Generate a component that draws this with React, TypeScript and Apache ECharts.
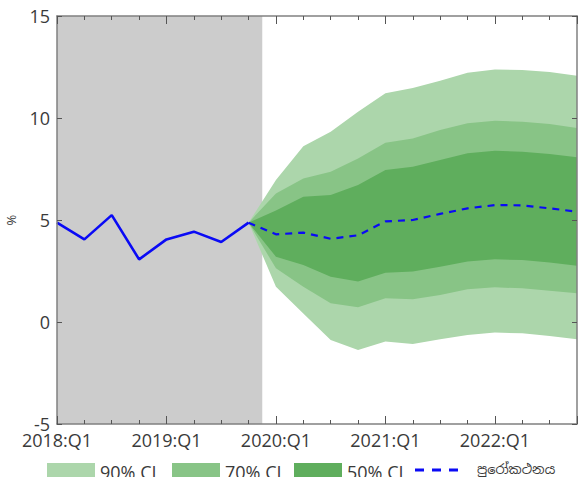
import React, { useEffect, useRef } from 'react';
import * as echarts from 'echarts';

// ---- Data ----
const startYear = 2018;
const xMax = 19; // 2022:Q4 (quarters since 2018:Q1)
const shadedEnd = 7.5; // end of the historical (grey) period

const actualX = [0, 1, 2, 3, 4, 5, 6, 7];
const actualValues = [4.87, 4.05, 5.24, 3.07, 4.05, 4.43, 3.92, 4.87];

const forecastX = [7, 8, 9, 10, 11, 12, 13, 14, 15, 16, 17, 18, 19];
const forecastValues = [4.87, 4.3, 4.38, 4.08, 4.25, 4.93, 5.0, 5.3, 5.57, 5.73, 5.72, 5.57, 5.41];

const ci90Upper = [4.87, 6.96, 8.62, 9.33, 10.31, 11.21, 11.47, 11.83, 12.22, 12.38, 12.35, 12.25, 12.07];
const ci70Upper = [4.87, 6.3, 7.04, 7.37, 8.02, 8.79, 9.0, 9.41, 9.74, 9.87, 9.82, 9.71, 9.51];
const ci50Upper = [4.87, 5.47, 6.14, 6.23, 6.72, 7.45, 7.61, 7.94, 8.27, 8.4, 8.35, 8.24, 8.07];
const ci50Lower = [4.87, 3.2, 2.79, 2.22, 1.98, 2.42, 2.47, 2.71, 2.96, 3.07, 3.04, 2.92, 2.76];
const ci70Lower = [4.87, 2.63, 1.73, 0.92, 0.72, 1.16, 1.11, 1.32, 1.6, 1.7, 1.65, 1.53, 1.41];
const ci90Lower = [4.87, 1.73, 0.42, -0.88, -1.37, -0.96, -1.08, -0.85, -0.64, -0.52, -0.55, -0.69, -0.85];

const yMin = -5;
const yMax = 15;
const yInterval = 5;

const legendNames = ['90% CI', '70% CI', '50% CI', 'පුරෝකථනය'];

// ---- Styles ----
const FONT = '"Open Sans", "Noto Sans", sans-serif';
const C90 = '#acd6ab';
const C70 = '#88c486';
const C50 = '#5fae5d';
const SHADE = '#cccccc';
const BLUE = '#0a0af5';
const FRAME = '#808080';
const TEXT = '#3a3a3a';

const bandSeries = (name: string, upper: number[], lower: number[], color: string, z: number) => ({
  type: 'custom',
  name,
  z,
  silent: true,
  clip: false,
  data: [[forecastX[0], upper[0]]],
  renderItem: (_params: any, api: any) => {
    const pts: number[][] = [];
    forecastX.forEach((x, i) => pts.push(api.coord([x, upper[i]])));
    for (let i = forecastX.length - 1; i >= 0; i--) pts.push(api.coord([forecastX[i], lower[i]]));
    return { type: 'polygon', shape: { points: pts }, style: { fill: color } };
  },
});

export default function App() {
  const ref = useRef<HTMLDivElement>(null);

  useEffect(() => {
    if (!ref.current) return;
    const chart = echarts.init(ref.current, undefined, { renderer: 'svg' });

    const xBase = {
      type: 'value',
      min: 0,
      max: xMax,
      splitLine: { show: false },
      z: 10,
    };

    const option: any = {
      animation: false,
      grid: { left: 57, right: 4, top: 16, bottom: 53, containLabel: false, outerBoundsMode: 'none' },
      xAxis: [
        {
          ...xBase,
          position: 'bottom',
          interval: 1,
          axisLine: { show: true, onZero: false, lineStyle: { color: FRAME, width: 1.5 } },
          axisTick: { show: true, inside: true, length: 4, lineStyle: { color: '#555' } },
          axisLabel: { show: false },
        },
        {
          ...xBase,
          position: 'bottom',
          interval: 4,
          axisLine: { show: false, onZero: false },
          axisTick: { show: true, inside: true, length: 8, lineStyle: { color: '#555' } },
          axisLabel: {
            show: true,
            margin: 7,
            fontSize: 18,
            fontFamily: FONT,
            color: TEXT,
            formatter: (v: number) => (v % 4 === 0 && v / 4 < 5 ? `${startYear + v / 4}:Q1` : ''),
          },
        },
        {
          ...xBase,
          position: 'top',
          interval: 1,
          axisLine: { show: true, onZero: false, lineStyle: { color: FRAME, width: 1.5 } },
          axisTick: { show: true, inside: true, length: 4, lineStyle: { color: '#555' } },
          axisLabel: { show: false },
        },
        {
          ...xBase,
          position: 'top',
          interval: 4,
          axisLine: { show: false, onZero: false },
          axisTick: { show: true, inside: true, length: 8, lineStyle: { color: '#555' } },
          axisLabel: { show: false },
        },
      ],
      yAxis: [
        {
          type: 'value',
          position: 'left',
          min: yMin,
          max: yMax,
          interval: yInterval,
          z: 10,
          name: '%',
          nameLocation: 'middle',
          nameGap: 40,
          nameRotate: 90,
          nameTextStyle: { fontSize: 13, fontFamily: FONT, color: TEXT },
          splitLine: { show: false },
          axisLine: { show: true, onZero: false, lineStyle: { color: FRAME, width: 1.5 } },
          axisTick: { show: true, inside: true, length: 5, lineStyle: { color: '#555' } },
          axisLabel: { show: true, margin: 7, fontSize: 18, fontFamily: FONT, color: TEXT },
        },
        {
          type: 'value',
          position: 'right',
          min: yMin,
          max: yMax,
          interval: yInterval,
          z: 10,
          splitLine: { show: false },
          axisLine: { show: true, onZero: false, lineStyle: { color: FRAME, width: 1.5 } },
          axisTick: { show: true, inside: true, length: 5, lineStyle: { color: '#555' } },
          axisLabel: { show: false },
        },
      ],
      series: [
        {
          type: 'custom',
          name: 'shade',
          z: 1,
          silent: true,
          clip: false,
          data: [[0, yMin]],
          renderItem: (_p: any, api: any) => {
            const a = api.coord([0, yMax]);
            const b = api.coord([shadedEnd, yMin]);
            return {
              type: 'rect',
              shape: { x: a[0], y: a[1], width: b[0] - a[0], height: b[1] - a[1] },
              style: { fill: SHADE },
            };
          },
        },
        bandSeries(legendNames[0], ci90Upper, ci90Lower, C90, 2),
        bandSeries(legendNames[1], ci70Upper, ci70Lower, C70, 3),
        bandSeries(legendNames[2], ci50Upper, ci50Lower, C50, 4),
        {
          type: 'line',
          name: 'actual',
          z: 6,
          showSymbol: false,
          silent: true,
          data: actualX.map((x, i) => [x, actualValues[i]]),
          lineStyle: { color: BLUE, width: 2.6 },
        },
        {
          type: 'line',
          name: legendNames[3],
          z: 6,
          showSymbol: false,
          silent: true,
          data: forecastX.map((x, i) => [x, forecastValues[i]]),
          lineStyle: { color: BLUE, width: 2.2, type: [7, 6] },
        },
      ],
      graphic: [
        { type: 'rect', left: 47, top: 463, shape: { width: 48, height: 16 }, style: { fill: C90 } },
        {
          type: 'text', x: 100, y: 472,
          style: { text: legendNames[0], fill: TEXT, fontSize: 18, fontFamily: FONT, verticalAlign: 'middle' },
        },
        { type: 'rect', left: 172, top: 463, shape: { width: 48, height: 16 }, style: { fill: C70 } },
        {
          type: 'text', x: 225, y: 472,
          style: { text: legendNames[1], fill: TEXT, fontSize: 18, fontFamily: FONT, verticalAlign: 'middle' },
        },
        { type: 'rect', left: 294, top: 463, shape: { width: 48, height: 16 }, style: { fill: C50 } },
        {
          type: 'text', x: 347, y: 472,
          style: { text: legendNames[2], fill: TEXT, fontSize: 18, fontFamily: FONT, verticalAlign: 'middle' },
        },
        {
          type: 'line',
          shape: { x1: 415, y1: 470, x2: 458, y2: 470 },
          style: { stroke: BLUE, lineWidth: 3, lineDash: [9, 8] },
        },
        {
          type: 'text', x: 477, y: 469,
          style: {
            text: legendNames[3], fill: TEXT, fontSize: 13,
            fontFamily: '"Noto Sans Sinhala", "Noto Sans", sans-serif', verticalAlign: 'middle',
          },
        },
      ],
    };

    chart.setOption(option);
    return () => chart.dispose();
  }, []);

  return (
    <div
      ref={ref}
      style={{ position: 'absolute', left: 0, top: 0, width: 581, height: 477 }}
    />
  );
}
